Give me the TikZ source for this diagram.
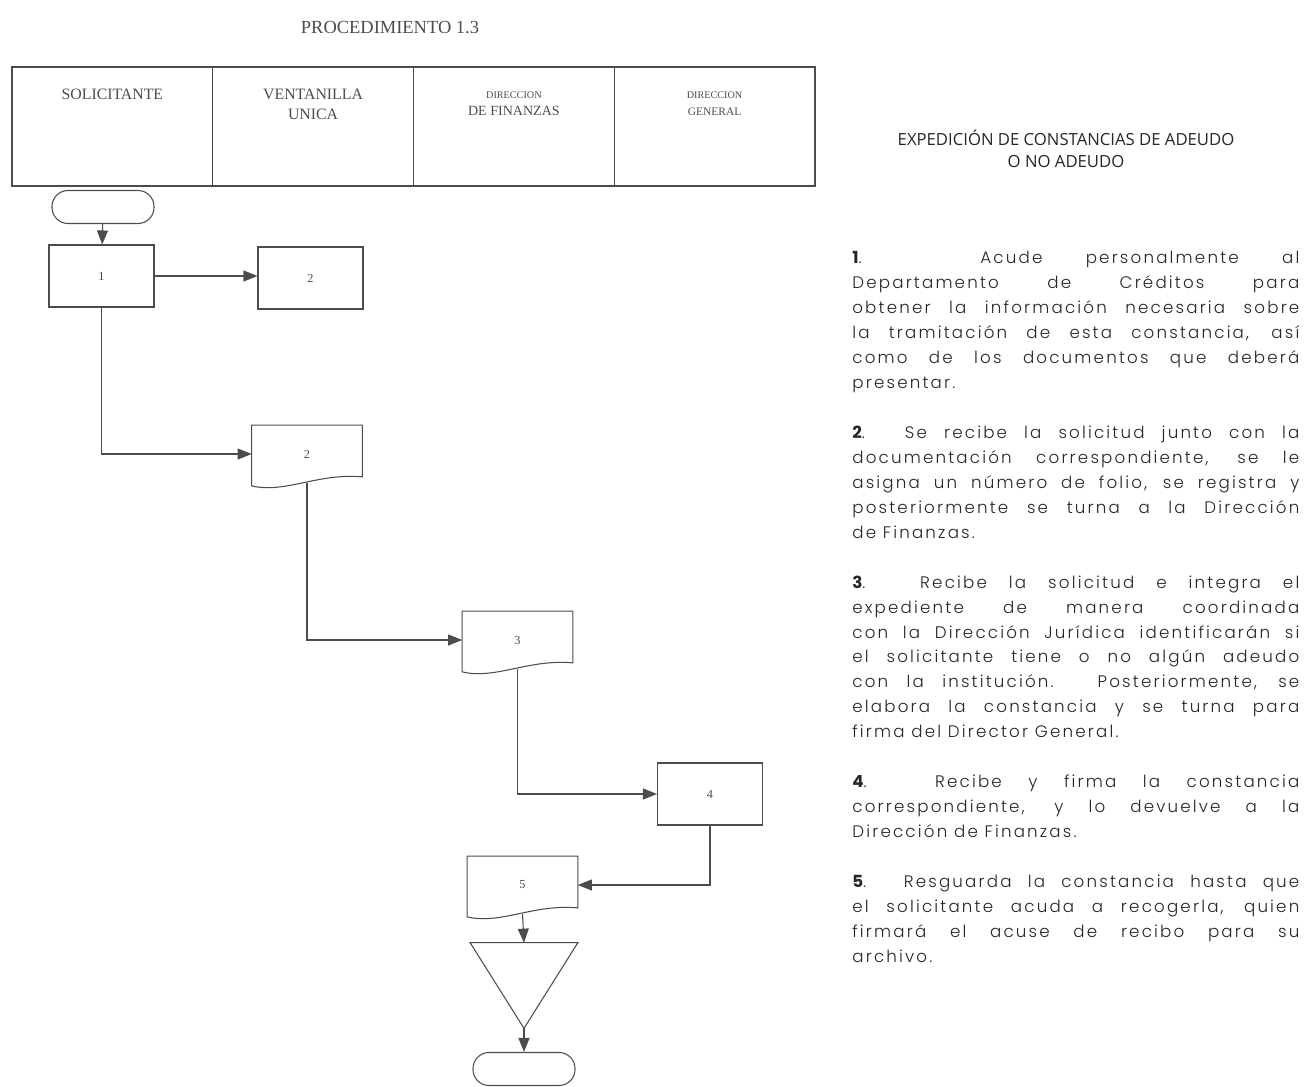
\documentclass[tikz,border=0pt]{standalone}
\usepackage{fontspec}
\setmainfont{Liberation Serif}
\IfFontExistsTF{Poppins Light}{%
  \IfFontExistsTF{Poppins Bold}{%
    \newfontfamily\bodyfont[LetterSpace=13,UprightFont={Poppins Light},BoldFont={Poppins Bold}]{Poppins}}{%
    \newfontfamily\bodyfont[LetterSpace=13,UprightFont={Poppins Light}]{Poppins}}}{%
  \newfontfamily\bodyfont[LetterSpace=13]{Poppins}}
\newfontfamily\headfont{Open Sans}
\usetikzlibrary{arrows.meta,positioning}
\definecolor{lin}{gray}{0.3}
\tikzset{
  edge/.style={draw=lin,line width=0.6pt},
  arrow/.style={edge,-{Triangle[length=2.8mm,width=2.2mm]}},
  flow/.style={align=center,inner sep=0pt,text=black!70,
    font=\fontsize{7}{7.5}\selectfont},
  lane/.style={flow,edge,minimum width=40.15mm,minimum height=23.8mm},
  lanetext/.style={flow,anchor=north,font=\fontsize{9}{11}\selectfont},
  stepbox/.style={flow,edge,minimum width=21mm,minimum height=12.4mm},
  terminal/.style={flow,edge,rounded corners=3.2mm,minimum width=20.4mm,
    minimum height=6.6mm},
  docbox/.style={flow,minimum width=22mm,minimum height=11.4mm,
    append after command={\pgfextra{\draw[edge]
      (\tikzlastnode.north west) -- ([yshift=-0.6mm]\tikzlastnode.south west)
      .. controls ([xshift=6.6mm,yshift=-2.2mm]\tikzlastnode.south west)
      and ([xshift=13.2mm,yshift=2mm]\tikzlastnode.south west)
      .. ([yshift=1.2mm]\tikzlastnode.south east)
      -- (\tikzlastnode.north east) -- cycle;}}},
  archbox/.style={flow,minimum width=21.4mm,minimum height=17mm,
    append after command={\pgfextra{\draw[edge]
      (\tikzlastnode.north west) -- (\tikzlastnode.north east)
      -- (\tikzlastnode.south) -- cycle;}}}
}

\begin{document}
\begin{tikzpicture}[x=0.2mm,y=-0.2mm]
\useasboundingbox (0,0) rectangle (1312,1087);
\node[flow,font=\fontsize{10.5}{11}\selectfont] (proc) at (390,28) {PROCEDIMIENTO 1.3};
% carriles
\node[lane] (sol) at (112.4,126.5) {};
\node[lane] (vent) at (313.1,126.5) {};
\node[lane] (fin) at (513.9,126.5) {};
\node[lane] (gral) at (714.6,126.5) {};
\node[lanetext] (tsol) at (sol.north |- 0,89) {SOLICITANTE};
\node[lanetext] (tvent) at (vent.north |- 0,89) {VENTANILLA\\UNICA};
\node[lanetext] (tfin) at (fin.north |- 0,91)
  {{\fontsize{5.8}{7}\selectfont DIRECCION}\\[-1pt]{\fontsize{8}{9}\selectfont DE FINANZAS}};
\node[lanetext] (tgral) at (gral.north |- 0,91)
  {{\fontsize{5.8}{7}\selectfont DIRECCION}\\[-1pt]{\fontsize{6.5}{8}\selectfont GENERAL}};
% diagrama
\node[terminal] (start) at (103,207) {};
\node[stepbox] (s1) at (101.5,276) {1};
\node[stepbox] (s2) at (310.5,278) {2};
\node[docbox] (d2) at (307,454) {2};
\node[docbox] (d3) at (517.5,640) {3};
\node[stepbox] (s4) at (710,794) {4};
\node[docbox] (d5) at (522.5,885) {5};
\node[archbox] (arch) at (524,985.5) {};
\node[terminal] (stop) at (524,1069) {};
\draw[arrow] (start) -- (s1);
\draw[arrow] (s1.east) -- (s1.east -| s2.west);
\draw[arrow] (s1.south) |- (d2.west);
\draw[arrow] (d2.south) |- (d3.west);
\draw[arrow] (d3.south) |- (s4.west);
\draw[arrow] (s4.south) |- (d5.east);
\draw[arrow] (d5.south) -- (arch.north);
\draw[arrow] (arch.south) -- (stop.north);
% descripcion
\node[align=center,text=black!85,font=\headfont\fontsize{9.5}{12.5}\selectfont] (tit) at (1066,149)
  {EXPEDICIÓN DE CONSTANCIAS DE ADEUDO\\O NO ADEUDO};
\node[anchor=north west,inner sep=0pt,text width=89.4mm,align=justify,text=black!85,
  font=\bodyfont\fontsize{9.5}{14.2}\selectfont] (desc) at (852,251) {%
\tolerance=10000\emergencystretch=2em\hyphenpenalty=10000
\textbf{1}. Acude personalmente al\linebreak
Departamento de Créditos para\linebreak
obtener la información necesaria sobre\linebreak
la tramitación de esta constancia, así\linebreak
como de los documentos que deberá\linebreak
presentar.\par\vspace{\baselineskip}
\textbf{2}. Se recibe la solicitud junto con la\linebreak
documentación correspondiente, se le\linebreak
asigna un número de folio, se registra y\linebreak
posteriormente se turna a la Dirección\linebreak
de Finanzas.\par\vspace{\baselineskip}
\textbf{3}. Recibe la solicitud e integra el\linebreak
expediente de manera coordinada\linebreak
con la Dirección Jurídica identificarán si\linebreak
el solicitante tiene o no algún adeudo\linebreak
con la institución. Posteriormente, se\linebreak
elabora la constancia y se turna para\linebreak
firma del Director General.\par\vspace{\baselineskip}
\textbf{4}. Recibe y firma la constancia\linebreak
correspondiente, y lo devuelve a la\linebreak
Dirección de Finanzas.\par\vspace{\baselineskip}
\textbf{5}. Resguarda la constancia hasta que\linebreak
el solicitante acuda a recogerla, quien\linebreak
firmará el acuse de recibo para su\linebreak
archivo.};
\end{tikzpicture}
\end{document}
